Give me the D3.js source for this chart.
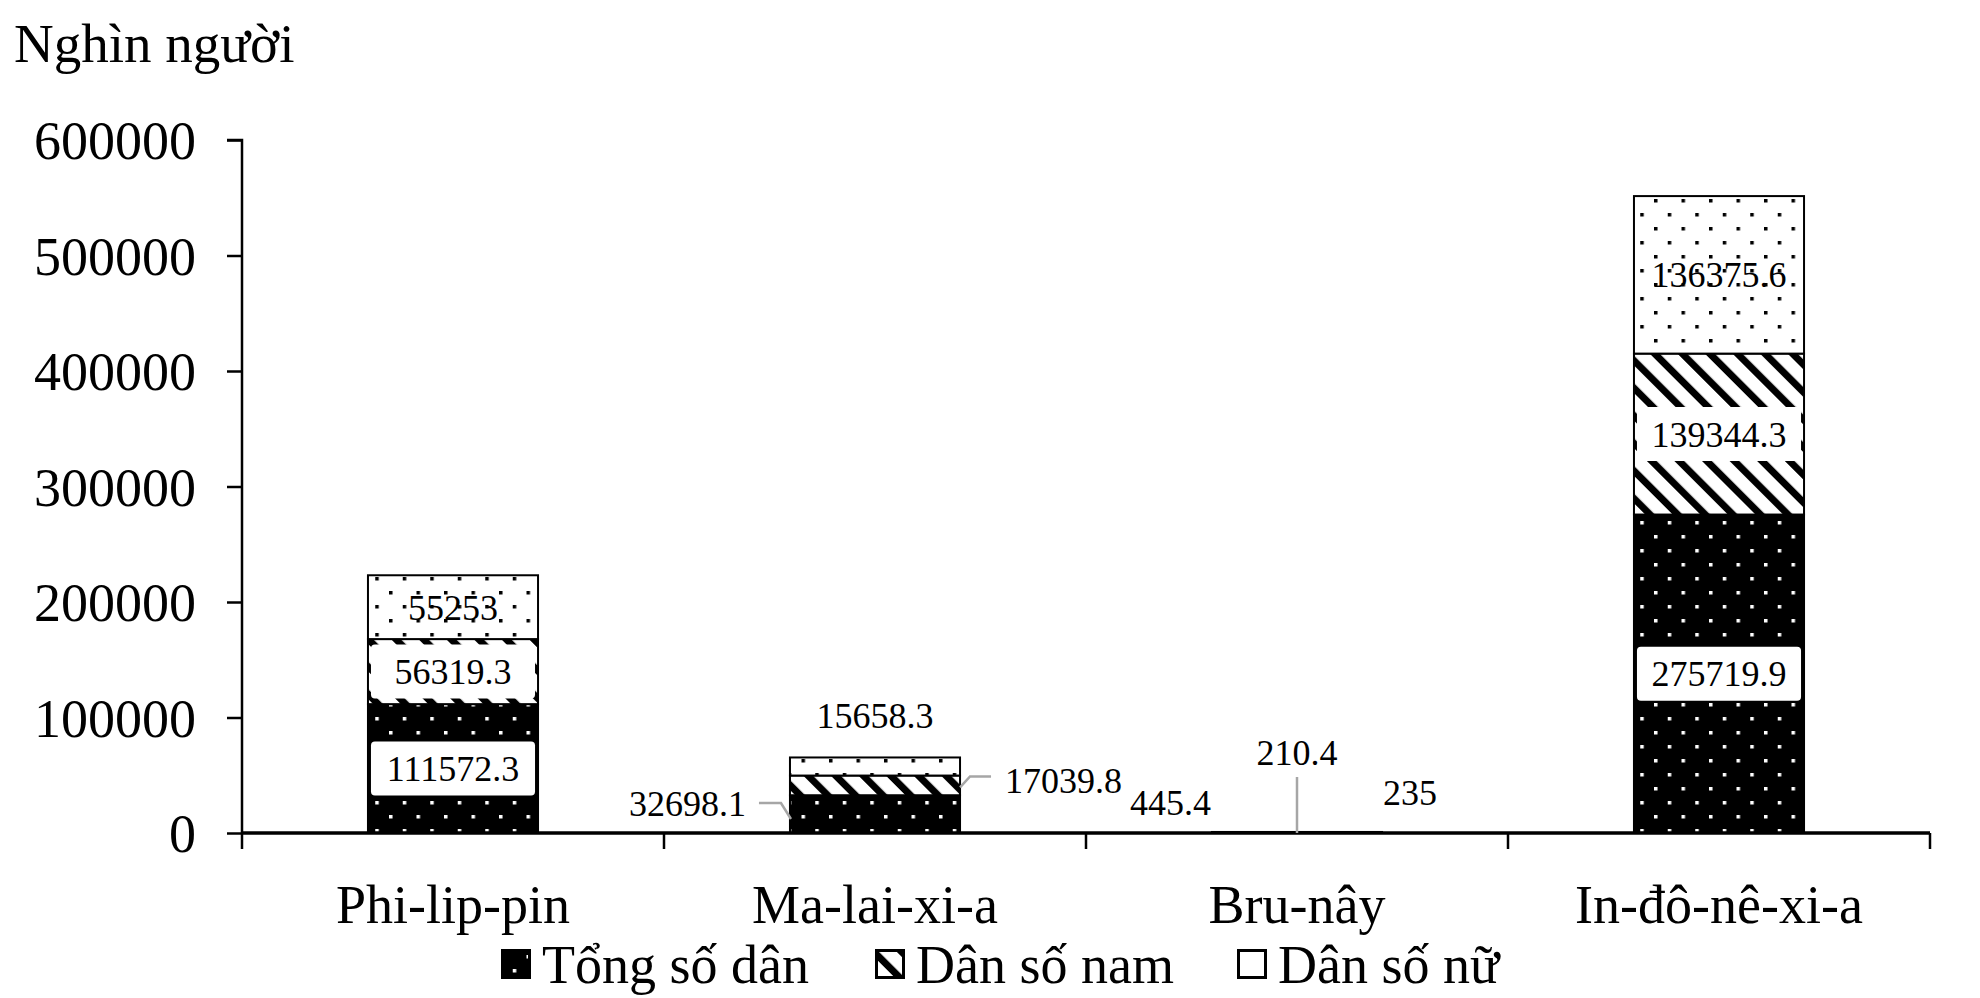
<!DOCTYPE html>
<html>
<head>
<meta charset="utf-8">
<script src="https://cdn.jsdelivr.net/npm/d3@7/dist/d3.min.js"></script>
<style>
  html, body { margin: 0; padding: 0; background: #fff; }
  svg { display: block; }
  text { font-family: "Liberation Serif", "Times New Roman", serif; fill: #000; }
</style>
</head>
<body>
<svg id="chart" width="1980" height="998"></svg>
<script>
// ---- data ----
const categories = ["Phi-lip-pin", "Ma-lai-xi-a", "Bru-nây", "In-đô-nê-xi-a"];
const seriesNames = ["Tổng số dân", "Dân số nam", "Dân số nữ"];
const tongSoDan = [111572.3, 32698.1, 445.4, 275719.9];
const danSoNam  = [56319.3, 17039.8, 210.4, 139344.3];
const danSoNu   = [55253, 15658.3, 235, 136375.6];
const labelTexts = [
  ["111572.3", "56319.3", "55253"],
  ["32698.1", "17039.8", "15658.3"],
  ["445.4", "210.4", "235"],
  ["275719.9", "139344.3", "136375.6"]
];
const yTicks = [0, 100000, 200000, 300000, 400000, 500000, 600000];
const yUnit = "Nghìn người";

// ---- layout ----
const svg = d3.select("#chart");
const x0 = 242, x1 = 1930, yBottom = 833, yTop = 140;

const x = d3.scaleBand().domain(categories).range([x0, x1])
  .paddingInner(0.597).paddingOuter(0.597 / 2);
const y = d3.scaleLinear().domain([0, 600000]).range([yBottom, yTop]);

// ---- patterns ----
const defs = svg.append("defs");
const pBlack = defs.append("pattern").attr("id", "pBlack")
  .attr("patternUnits", "userSpaceOnUse").attr("width", 27.5).attr("height", 28)
  .attr("x", 4).attr("y", 3);
pBlack.append("rect").attr("width", 27.5).attr("height", 28).attr("fill", "#000");
pBlack.append("rect").attr("x", 0).attr("y", 0).attr("width", 3.5).attr("height", 3.5).attr("fill", "#fff");
pBlack.append("rect").attr("x", 13.75).attr("y", 14).attr("width", 3.5).attr("height", 3.5).attr("fill", "#fff");
const pWhite = defs.append("pattern").attr("id", "pWhite")
  .attr("patternUnits", "userSpaceOnUse").attr("width", 27.5).attr("height", 28)
  .attr("x", 4).attr("y", 3);
pWhite.append("rect").attr("width", 27.5).attr("height", 28).attr("fill", "#fff");
pWhite.append("rect").attr("x", 0).attr("y", 0).attr("width", 3.5).attr("height", 3.5).attr("fill", "#000");
pWhite.append("rect").attr("x", 13.75).attr("y", 14).attr("width", 3.5).attr("height", 3.5).attr("fill", "#000");
const pHatch = defs.append("pattern").attr("id", "pHatch")
  .attr("patternUnits", "userSpaceOnUse").attr("width", 19.5).attr("height", 19.5)
  .attr("patternTransform", "rotate(-45)");
pHatch.append("rect").attr("width", 19.5).attr("height", 19.5).attr("fill", "#fff");
pHatch.append("rect").attr("x", 0).attr("y", 0).attr("width", 7).attr("height", 19.5).attr("fill", "#000");

const fills = ["url(#pBlack)", "url(#pHatch)", "url(#pWhite)"];
const legendFills = ["url(#pBlack)", "url(#pHatch)", "#fff"];

// ---- stacked data ----
const rows = categories.map((c, i) => ({ cat: c, s0: tongSoDan[i], s1: danSoNam[i], s2: danSoNu[i] }));
const stack = d3.stack().keys(["s0", "s1", "s2"])(rows);

// ---- bars ----
const gBars = svg.append("g");
stack.forEach((layer, si) => {
  gBars.selectAll(null).data(layer).enter().append("rect")
    .attr("x", d => x(d.data.cat))
    .attr("width", x.bandwidth())
    .attr("y", d => y(d[1]))
    .attr("height", d => Math.max(0.5, y(d[0]) - y(d[1])))
    .attr("fill", fills[si])
    .attr("stroke", "#000")
    .attr("stroke-width", 2);
});

// ---- axes ----
const yAxis = d3.axisLeft(y).tickValues(yTicks).tickSize(15).tickFormat(d3.format("d"));
const gy = svg.append("g").attr("transform", `translate(${x0},0)`).call(yAxis);
gy.select(".domain").attr("stroke", "#000").attr("stroke-width", 2.5)
  .attr("d", `M-15,${yTop}H0V${yBottom}`);
gy.selectAll(".tick line").attr("stroke", "#000").attr("stroke-width", 2.5);
gy.selectAll(".tick text").attr("x", -46).attr("dy", "0.35em")
  .style("font-family", "'Liberation Serif', serif").style("font-size", "54px").attr("fill", "#000");

const xAxis = d3.axisBottom(x).tickSize(0).tickFormat(d => d);
const gx = svg.append("g").attr("transform", `translate(0,${yBottom})`).call(xAxis);
gx.select(".domain").attr("stroke", "#000").attr("stroke-width", 3.5).attr("d", `M${x0},0H${x1}`);
gx.selectAll(".tick text").attr("y", 90).attr("dy", 0)
  .style("font-family", "'Liberation Serif', serif").style("font-size", "54px").attr("fill", "#000");
const bounds = categories.map(c => x(c) - x.step() * x.paddingInner() / 2).concat([x1]);
svg.append("g").selectAll("line").data(bounds).enter().append("line")
  .attr("x1", d => d).attr("x2", d => d)
  .attr("y1", yBottom).attr("y2", yBottom + 16)
  .attr("stroke", "#000").attr("stroke-width", 2.5);

// unit title
svg.append("text").attr("x", 14).attr("y", 62).style("font-size", "55px").text(yUnit);

// ---- data labels ----
const gLab = svg.append("g");
const LFS = 36;
const bw = x.bandwidth();
function boxLabel(cx, cy, txt, box) {
  if (box) {
    gLab.append("rect").attr("x", cx - bw / 2 + 3).attr("y", cy - 27)
      .attr("width", bw - 6).attr("height", 54).attr("rx", 4).attr("fill", "#fff");
  }
  gLab.append("text").attr("x", cx).attr("y", cy).attr("dy", "0.35em")
    .attr("text-anchor", "middle").style("font-size", LFS + "px").text(txt);
}
function plainLabel(px, py, txt, anchor) {
  gLab.append("text").attr("x", px).attr("y", py).attr("dy", "0.35em")
    .attr("text-anchor", anchor).style("font-size", LFS + "px").text(txt);
}
function leader(pts) {
  gLab.append("path").attr("d", d3.line()(pts)).attr("fill", "none")
    .attr("stroke", "#a6a6a6").attr("stroke-width", 2.5);
}

[0, 3].forEach(i => {
  const cx = x(categories[i]) + bw / 2;
  stack.forEach((layer, si) => {
    const d = layer[i];
    boxLabel(cx, (y(d[0]) + y(d[1])) / 2, labelTexts[i][si], si < 2);
  });
});

// Ma-lai-xi-a
{
  const i = 1, L = x(categories[i]), R = L + bw, cx = L + bw / 2;
  const d0 = stack[0][i], d1 = stack[1][i], d2 = stack[2][i];
  const yA = (y(d0[0]) + y(d0[1])) / 2 - 11;
  plainLabel(L - 44, yA, labelTexts[i][0], "end");
  leader([[L - 31, yA], [L - 9, yA], [L + 1, y(0) - 14]]);
  const yB = (y(d1[0]) + y(d1[1])) / 2 - 5;
  plainLabel(R + 45, yB, labelTexts[i][1], "start");
  leader([[R + 31, yB - 4], [R + 10, yB - 4], [R, yB + 7]]);
  plainLabel(cx, y(d2[1]) - 42, labelTexts[i][2], "middle");
}
// Bru-nây
{
  const i = 2, L = x(categories[i]), R = L + bw, cx = L + bw / 2;
  plainLabel(L - 1, y(0) - 31, labelTexts[i][0], "end");
  plainLabel(cx, y(0) - 81, labelTexts[i][1], "middle");
  leader([[cx, y(0) - 56], [cx, y(0)]]);
  plainLabel(R + 1, y(0) - 41, labelTexts[i][2], "start");
}

// ---- legend ----
const legX = [501, 875, 1237];
const gLeg = svg.append("g");
seriesNames.forEach((n, i) => {
  gLeg.append("rect").attr("x", legX[i] + 1.5).attr("y", 950.5).attr("width", 27).attr("height", 27)
    .attr("fill", legendFills[i]).attr("stroke", "#000").attr("stroke-width", 3);
  gLeg.append("text").attr("x", legX[i] + 41).attr("y", 983).style("font-size", "54px").text(n);
});
</script>
</body>
</html>
